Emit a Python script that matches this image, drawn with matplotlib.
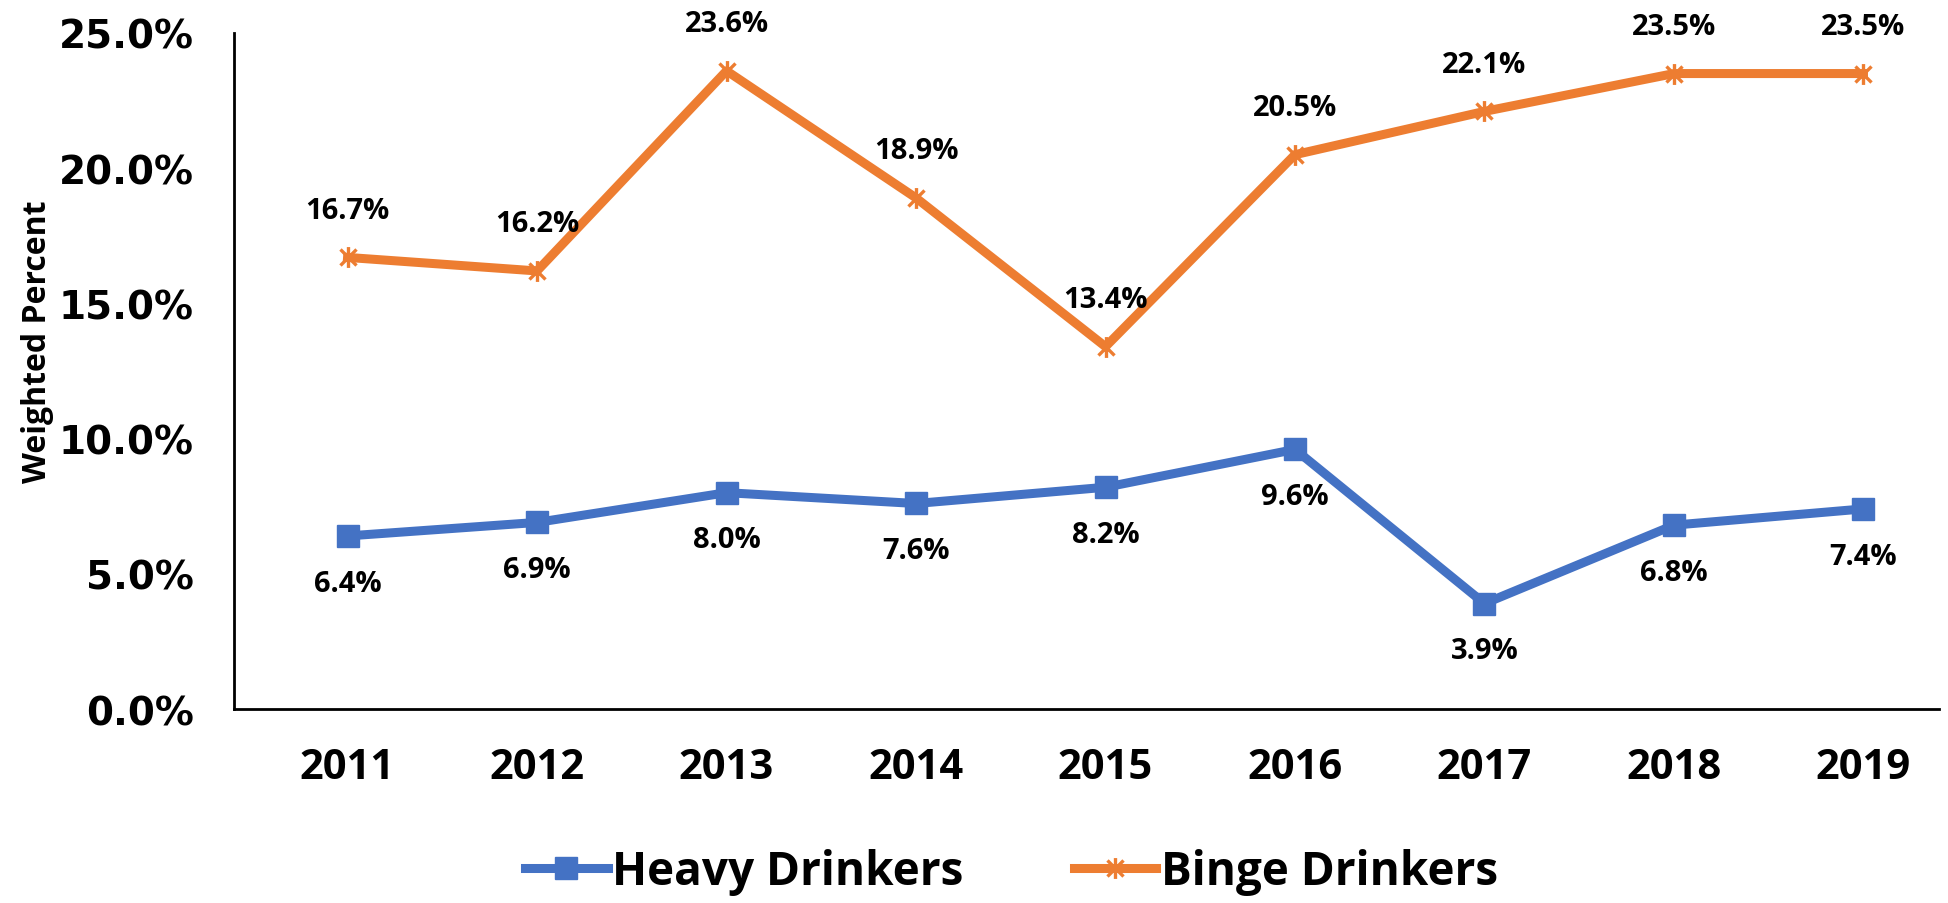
import matplotlib
matplotlib.use("Agg")
import matplotlib.pyplot as plt
from matplotlib.path import Path
from matplotlib.ticker import FuncFormatter

years = ["2011", "2012", "2013", "2014", "2015", "2016", "2017", "2018", "2019"]
heavy = [6.4, 6.9, 8.0, 7.6, 8.2, 9.6, 3.9, 6.8, 7.4]
binge = [16.7, 16.2, 23.6, 18.9, 13.4, 20.5, 22.1, 23.5, 23.5]

blue = "#4472C4"
orange = "#ED7D31"

plt.rcParams["font.family"] = ["Open Sans", "DejaVu Sans"]

# excel style star marker: an x with a vertical bar through it
star = Path([(-1, -1), (1, 1), (-1, 1), (1, -1), (0, -1.3), (0, 1.3)],
            [Path.MOVETO, Path.LINETO, Path.MOVETO, Path.LINETO, Path.MOVETO, Path.LINETO])

fig = plt.figure(figsize=(19.49, 9.04), dpi=100)
ax = fig.add_axes([0.120, 0.2146, 0.875, 0.7478])

x = list(range(len(years)))
ax.plot(x, heavy, color=blue, lw=6.5, marker="s", ms=16, label="Heavy Drinkers")
ax.plot(x, binge, color=orange, lw=6.5, marker=star, ms=15, mew=2.4,
        mfc="none", label="Binge Drinkers")

for i in x:
    ax.annotate(f"{heavy[i]:.1f}%", (i, heavy[i]), xytext=(0, -34), textcoords="offset points",
                ha="center", va="center", fontsize=21, fontweight="bold")
    ax.annotate(f"{binge[i]:.1f}%", (i, binge[i]), xytext=(0, 34), textcoords="offset points",
                ha="center", va="center", fontsize=21, fontweight="bold")

ax.set_xlim(-0.6, 8.4)
ax.set_ylim(0, 25)
ax.set_xticks(x)
ax.set_xticklabels(years, fontsize=30, fontweight="bold")
ax.set_yticks([0, 5, 10, 15, 20, 25])
ax.yaxis.set_major_formatter(FuncFormatter(lambda v, p: f"{v:.1f}%"))
for lab in ax.get_yticklabels():
    lab.set_family("DejaVu Sans")
    lab.set_fontweight("bold")
    lab.set_fontsize(28)
ax.tick_params(axis="both", length=0)
ax.tick_params(axis="y", pad=29)
ax.tick_params(axis="x", pad=27)

for s in ["top", "right"]:
    ax.spines[s].set_visible(False)
ax.spines["left"].set_linewidth(2)
ax.spines["bottom"].set_linewidth(2)

fig.text(0.019, 0.622, "Weighted Percent", rotation=90, ha="center", va="center",
         fontsize=23, fontweight="bold")

fig.legend(loc="center", bbox_to_anchor=(0.519, 0.035), ncol=2, frameon=False,
           prop={"size": 33, "weight": "bold"}, handlelength=1.8, handletextpad=0.1,
           columnspacing=2.4)

fig.savefig("out.png", dpi=100)
